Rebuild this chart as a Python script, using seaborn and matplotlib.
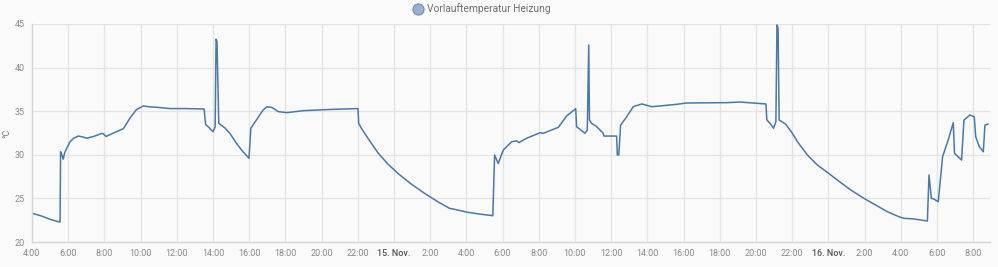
import matplotlib
matplotlib.use("Agg")
import matplotlib.pyplot as plt
import seaborn as sns
import pandas as pd
from matplotlib.lines import Line2D

# ---- data (hours after 14 Nov 04:00, temperature in °C) ----
series_name = "Vorlauftemperatur Heizung"
start_time = "2024-11-14 04:00"
end_hours = 52.93
hours = [0.0, 0.5, 1.0, 1.51, 1.55, 1.58, 1.65, 1.73, 1.8, 1.95, 2.1, 2.3, 2.56, 2.8, 3.02,
         3.4, 3.85, 3.95, 4.09, 4.5, 5.05, 5.41, 5.78, 6.15, 6.5, 6.89, 7.62, 8.5, 9.51,
         9.59, 9.82, 10.0, 10.12, 10.17, 10.22, 10.32, 10.65, 10.93, 11.3, 11.66, 11.99,
         12.09, 12.4, 12.77, 12.97, 13.24, 13.61, 14.07, 14.99, 16.46, 18.01,
         18.05, 18.2, 18.56, 19.11, 19.66, 20.21, 20.95, 21.69, 22.42, 23.07, 23.34, 24.08,
         24.82, 25.46, 25.56, 25.76, 26.04, 26.5,
         26.78, 26.9, 27.33, 28.07, 28.25, 29.08, 29.54, 30.04, 30.09, 30.55, 30.68, 30.76,
         30.8, 30.92, 31.16, 31.56, 31.6, 32.3, 32.34, 32.42, 32.52, 32.86, 33.22, 33.69,
         34.24, 34.7, 35.16, 35.62, 36.17, 38.38, 39.12, 40.55, 40.6, 40.82, 40.97, 41.1,
         41.16, 41.22, 41.28, 41.65, 42.01, 42.29, 42.84, 43.39, 43.94, 44.5, 45.24, 45.97,
         46.71, 47.26, 47.9, 48.18, 48.73, 49.47,
         49.56, 49.69, 49.83, 50.07, 50.31, 50.62, 50.9, 50.97, 51.36, 51.49, 51.82, 52.06,
         52.14, 52.34, 52.56, 52.65, 52.83]
temps = [23.3, 23.0, 22.6, 22.3, 22.3, 30.35, 30.0, 29.5, 30.2, 30.9, 31.5, 31.9, 32.15, 32.05, 31.9,
         32.1, 32.45, 32.4, 32.1, 32.5, 33.0, 34.2, 35.2, 35.6, 35.5, 35.45, 35.3, 35.3, 35.25,
         33.5, 33.04, 32.65, 33.2, 43.25, 43.0, 33.6, 33.1, 32.47, 31.3, 30.35, 29.6,
         33.04, 34.0, 35.14, 35.5, 35.45, 34.95, 34.83, 35.06, 35.2, 35.3,
         33.6, 33.04, 31.9, 30.24, 28.94, 27.88, 26.65, 25.58, 24.62, 23.86, 23.75, 23.4,
         23.18, 23.02, 29.98, 29.0, 30.55, 31.5,
         31.6, 31.4, 31.9, 32.53, 32.47, 33.15, 34.45, 35.29, 33.22, 32.47, 32.84, 42.6,
         34.0, 33.6, 33.3, 32.47, 32.15, 32.15, 29.98, 29.98, 33.4, 34.37, 35.52, 35.83,
         35.52, 35.6, 35.7, 35.79, 35.94, 35.98, 36.05, 35.83, 34.0, 33.5, 33.04, 33.8,
         44.9, 44.5, 34.0, 33.5, 32.47, 31.5, 29.98, 28.83, 27.99, 27.1, 25.96, 25.0,
         24.13, 23.47, 22.9, 22.72, 22.64, 22.41,
         27.68, 25.0, 24.93, 24.62, 29.78, 31.7, 33.68, 30.17, 29.4, 33.99, 34.56, 34.37,
         32.08, 30.93, 30.35, 33.4, 33.53]
y_ticks = [20, 25, 30, 35, 40, 45]
y_label = "°C"

# ---- build frame ----
t0 = pd.Timestamp(start_time)
df = pd.DataFrame({"time": t0 + pd.to_timedelta(hours, unit="h"), "temp": temps})

sns.set_style("whitegrid")
plt.rcParams["font.family"] = ["Roboto", "DejaVu Sans"]

W, H = 998, 267
fig = plt.figure(figsize=(W / 100, H / 100), dpi=100, facecolor="#fafafa")
ax = fig.add_axes([32 / W, 1 - 242 / H, (990 - 32) / W, (242 - 24) / H])
ax.set_facecolor("#fafafa")

line_color = "#4a78a7"
sns.lineplot(data=df, x="time", y="temp", ax=ax, color=line_color, linewidth=1.1,
             legend=False)

ax.set_xlim(t0, t0 + pd.Timedelta(hours=end_hours))
ax.set_ylim(20, 45)
ax.set_yticks(y_ticks)
ax.set_yticklabels([str(v) for v in y_ticks])

xt = pd.date_range(t0, t0 + pd.Timedelta(hours=end_hours), freq="2h")
labels = []
for t in xt:
    if t.hour == 0:
        labels.append(f"{t.day}. {t.strftime('%b')}.")
    else:
        labels.append(f"{t.hour}:00")
ax.set_xticks(xt)
ax.set_xticklabels(labels)
for t, lab in zip(xt, ax.get_xticklabels()):
    if t.hour == 0:
        lab.set_fontweight("medium")
        lab.set_color("#555555")
    else:
        lab.set_color("#8a8a8a")

grid_color = "#e3e3e3"
ax.grid(True, color=grid_color, linewidth=0.9)
for s in ["top", "right"]:
    ax.spines[s].set_visible(False)
for s in ["left", "bottom"]:
    ax.spines[s].set_visible(True)
    ax.spines[s].set_color("#d6d6d6")
    ax.spines[s].set_linewidth(1.0)

ax.tick_params(axis="y", labelsize=6.5, labelcolor="#8a8a8a", length=3, color=grid_color, pad=2)
ax.tick_params(axis="x", labelsize=6.5, length=0, pad=5)
ax.set_xlabel("")
ax.set_ylabel(y_label, fontsize=6.5, color="#777777")
ax.yaxis.set_label_coords(-0.022, 0.5)

handle = Line2D([], [], marker="o", linestyle="", markersize=8,
                markerfacecolor="#9ab0cf", markeredgecolor="#6f8cb3", markeredgewidth=0.8)
fig.legend([handle], [series_name], loc="center", bbox_to_anchor=(482 / W, 1 - 9 / H),
           frameon=False, fontsize=7.4, labelcolor="#707070", handletextpad=0.5,
           borderpad=0, handlelength=0.8)

fig.savefig("out.png", dpi=100, facecolor=fig.get_facecolor())
